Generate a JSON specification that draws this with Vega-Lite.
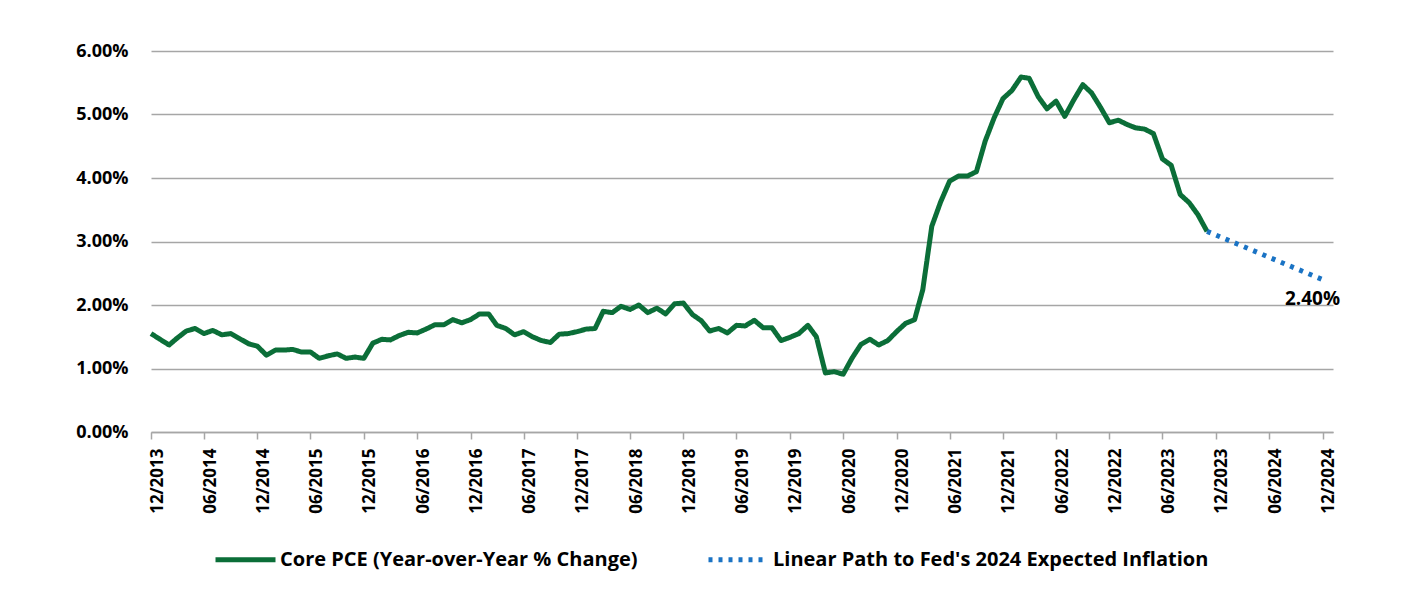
{
  "$schema": "https://vega.github.io/schema/vega-lite/v6.json",
  "width": 1182,
  "height": 381,
  "autosize": {"type": "none"},
  "padding": {"left": 151, "top": 51, "right": 69, "bottom": 166},
  "background": "white",
  "config": {
    "view": {"stroke": null},
    "font": "Open Sans",
    "axis": {"labelFont": "Open Sans", "labelFontWeight": "bold", "labelColor": "#000000"},
    "legend": {"labelFont": "Open Sans", "labelFontWeight": "bold", "labelColor": "#000000"}
  },
  "data": {
    "values": [
      {"date": "2013-12-01", "v": 1.55, "s": "core"},
      {"date": "2014-01-01", "v": 1.46, "s": "core"},
      {"date": "2014-02-01", "v": 1.37, "s": "core"},
      {"date": "2014-03-01", "v": 1.48, "s": "core"},
      {"date": "2014-04-01", "v": 1.59, "s": "core"},
      {"date": "2014-05-01", "v": 1.63, "s": "core"},
      {"date": "2014-06-01", "v": 1.55, "s": "core"},
      {"date": "2014-07-01", "v": 1.60, "s": "core"},
      {"date": "2014-08-01", "v": 1.53, "s": "core"},
      {"date": "2014-09-01", "v": 1.55, "s": "core"},
      {"date": "2014-10-01", "v": 1.47, "s": "core"},
      {"date": "2014-11-01", "v": 1.39, "s": "core"},
      {"date": "2014-12-01", "v": 1.35, "s": "core"},
      {"date": "2015-01-01", "v": 1.21, "s": "core"},
      {"date": "2015-02-01", "v": 1.29, "s": "core"},
      {"date": "2015-03-01", "v": 1.29, "s": "core"},
      {"date": "2015-04-01", "v": 1.30, "s": "core"},
      {"date": "2015-05-01", "v": 1.26, "s": "core"},
      {"date": "2015-06-01", "v": 1.26, "s": "core"},
      {"date": "2015-07-01", "v": 1.16, "s": "core"},
      {"date": "2015-08-01", "v": 1.20, "s": "core"},
      {"date": "2015-09-01", "v": 1.23, "s": "core"},
      {"date": "2015-10-01", "v": 1.16, "s": "core"},
      {"date": "2015-11-01", "v": 1.18, "s": "core"},
      {"date": "2015-12-01", "v": 1.16, "s": "core"},
      {"date": "2016-01-01", "v": 1.40, "s": "core"},
      {"date": "2016-02-01", "v": 1.46, "s": "core"},
      {"date": "2016-03-01", "v": 1.45, "s": "core"},
      {"date": "2016-04-01", "v": 1.52, "s": "core"},
      {"date": "2016-05-01", "v": 1.57, "s": "core"},
      {"date": "2016-06-01", "v": 1.56, "s": "core"},
      {"date": "2016-07-01", "v": 1.62, "s": "core"},
      {"date": "2016-08-01", "v": 1.69, "s": "core"},
      {"date": "2016-09-01", "v": 1.69, "s": "core"},
      {"date": "2016-10-01", "v": 1.77, "s": "core"},
      {"date": "2016-11-01", "v": 1.72, "s": "core"},
      {"date": "2016-12-01", "v": 1.77, "s": "core"},
      {"date": "2017-01-01", "v": 1.86, "s": "core"},
      {"date": "2017-02-01", "v": 1.86, "s": "core"},
      {"date": "2017-03-01", "v": 1.68, "s": "core"},
      {"date": "2017-04-01", "v": 1.63, "s": "core"},
      {"date": "2017-05-01", "v": 1.53, "s": "core"},
      {"date": "2017-06-01", "v": 1.58, "s": "core"},
      {"date": "2017-07-01", "v": 1.50, "s": "core"},
      {"date": "2017-08-01", "v": 1.44, "s": "core"},
      {"date": "2017-09-01", "v": 1.41, "s": "core"},
      {"date": "2017-10-01", "v": 1.54, "s": "core"},
      {"date": "2017-11-01", "v": 1.55, "s": "core"},
      {"date": "2017-12-01", "v": 1.58, "s": "core"},
      {"date": "2018-01-01", "v": 1.62, "s": "core"},
      {"date": "2018-02-01", "v": 1.63, "s": "core"},
      {"date": "2018-03-01", "v": 1.90, "s": "core"},
      {"date": "2018-04-01", "v": 1.88, "s": "core"},
      {"date": "2018-05-01", "v": 1.98, "s": "core"},
      {"date": "2018-06-01", "v": 1.93, "s": "core"},
      {"date": "2018-07-01", "v": 2.00, "s": "core"},
      {"date": "2018-08-01", "v": 1.88, "s": "core"},
      {"date": "2018-09-01", "v": 1.95, "s": "core"},
      {"date": "2018-10-01", "v": 1.86, "s": "core"},
      {"date": "2018-11-01", "v": 2.02, "s": "core"},
      {"date": "2018-12-01", "v": 2.03, "s": "core"},
      {"date": "2019-01-01", "v": 1.85, "s": "core"},
      {"date": "2019-02-01", "v": 1.75, "s": "core"},
      {"date": "2019-03-01", "v": 1.59, "s": "core"},
      {"date": "2019-04-01", "v": 1.63, "s": "core"},
      {"date": "2019-05-01", "v": 1.56, "s": "core"},
      {"date": "2019-06-01", "v": 1.68, "s": "core"},
      {"date": "2019-07-01", "v": 1.67, "s": "core"},
      {"date": "2019-08-01", "v": 1.76, "s": "core"},
      {"date": "2019-09-01", "v": 1.64, "s": "core"},
      {"date": "2019-10-01", "v": 1.64, "s": "core"},
      {"date": "2019-11-01", "v": 1.44, "s": "core"},
      {"date": "2019-12-01", "v": 1.49, "s": "core"},
      {"date": "2020-01-01", "v": 1.55, "s": "core"},
      {"date": "2020-02-01", "v": 1.68, "s": "core"},
      {"date": "2020-03-01", "v": 1.50, "s": "core"},
      {"date": "2020-04-01", "v": 0.93, "s": "core"},
      {"date": "2020-05-01", "v": 0.95, "s": "core"},
      {"date": "2020-06-01", "v": 0.91, "s": "core"},
      {"date": "2020-07-01", "v": 1.16, "s": "core"},
      {"date": "2020-08-01", "v": 1.38, "s": "core"},
      {"date": "2020-09-01", "v": 1.46, "s": "core"},
      {"date": "2020-10-01", "v": 1.37, "s": "core"},
      {"date": "2020-11-01", "v": 1.44, "s": "core"},
      {"date": "2020-12-01", "v": 1.58, "s": "core"},
      {"date": "2021-01-01", "v": 1.71, "s": "core"},
      {"date": "2021-02-01", "v": 1.77, "s": "core"},
      {"date": "2021-03-01", "v": 2.24, "s": "core"},
      {"date": "2021-04-01", "v": 3.24, "s": "core"},
      {"date": "2021-05-01", "v": 3.62, "s": "core"},
      {"date": "2021-06-01", "v": 3.95, "s": "core"},
      {"date": "2021-07-01", "v": 4.03, "s": "core"},
      {"date": "2021-08-01", "v": 4.03, "s": "core"},
      {"date": "2021-09-01", "v": 4.10, "s": "core"},
      {"date": "2021-10-01", "v": 4.58, "s": "core"},
      {"date": "2021-11-01", "v": 4.95, "s": "core"},
      {"date": "2021-12-01", "v": 5.25, "s": "core"},
      {"date": "2022-01-01", "v": 5.38, "s": "core"},
      {"date": "2022-02-01", "v": 5.59, "s": "core"},
      {"date": "2022-03-01", "v": 5.57, "s": "core"},
      {"date": "2022-04-01", "v": 5.28, "s": "core"},
      {"date": "2022-05-01", "v": 5.09, "s": "core"},
      {"date": "2022-06-01", "v": 5.21, "s": "core"},
      {"date": "2022-07-01", "v": 4.97, "s": "core"},
      {"date": "2022-08-01", "v": 5.23, "s": "core"},
      {"date": "2022-09-01", "v": 5.47, "s": "core"},
      {"date": "2022-10-01", "v": 5.34, "s": "core"},
      {"date": "2022-11-01", "v": 5.11, "s": "core"},
      {"date": "2022-12-01", "v": 4.87, "s": "core"},
      {"date": "2023-01-01", "v": 4.91, "s": "core"},
      {"date": "2023-02-01", "v": 4.84, "s": "core"},
      {"date": "2023-03-01", "v": 4.79, "s": "core"},
      {"date": "2023-04-01", "v": 4.77, "s": "core"},
      {"date": "2023-05-01", "v": 4.70, "s": "core"},
      {"date": "2023-06-01", "v": 4.30, "s": "core"},
      {"date": "2023-07-01", "v": 4.20, "s": "core"},
      {"date": "2023-08-01", "v": 3.74, "s": "core"},
      {"date": "2023-09-01", "v": 3.61, "s": "core"},
      {"date": "2023-10-01", "v": 3.42, "s": "core"},
      {"date": "2023-11-01", "v": 3.16, "s": "core"},
      {"date": "2023-11-01", "v": 3.16, "s": "path"},
      {"date": "2024-12-01", "v": 2.40, "s": "path", "label": "2.40%"}
    ]
  },
  "encoding": {
    "x": {
      "field": "date",
      "type": "temporal",
      "scale": {"type": "utc", "domain": ["2013-12-01", "2025-01-06"]},
      "axis": {
        "title": null,
        "labelExpr": "utcFormat(datum.value, '%m/%Y')",
        "values": [
          {"year": 2013, "month": 12, "date": 1, "utc": true},
          {"year": 2014, "month": 6, "date": 1, "utc": true},
          {"year": 2014, "month": 12, "date": 1, "utc": true},
          {"year": 2015, "month": 6, "date": 1, "utc": true},
          {"year": 2015, "month": 12, "date": 1, "utc": true},
          {"year": 2016, "month": 6, "date": 1, "utc": true},
          {"year": 2016, "month": 12, "date": 1, "utc": true},
          {"year": 2017, "month": 6, "date": 1, "utc": true},
          {"year": 2017, "month": 12, "date": 1, "utc": true},
          {"year": 2018, "month": 6, "date": 1, "utc": true},
          {"year": 2018, "month": 12, "date": 1, "utc": true},
          {"year": 2019, "month": 6, "date": 1, "utc": true},
          {"year": 2019, "month": 12, "date": 1, "utc": true},
          {"year": 2020, "month": 6, "date": 1, "utc": true},
          {"year": 2020, "month": 12, "date": 1, "utc": true},
          {"year": 2021, "month": 6, "date": 1, "utc": true},
          {"year": 2021, "month": 12, "date": 1, "utc": true},
          {"year": 2022, "month": 6, "date": 1, "utc": true},
          {"year": 2022, "month": 12, "date": 1, "utc": true},
          {"year": 2023, "month": 6, "date": 1, "utc": true},
          {"year": 2023, "month": 12, "date": 1, "utc": true},
          {"year": 2024, "month": 6, "date": 1, "utc": true},
          {"year": 2024, "month": 12, "date": 1, "utc": true}
        ],
        "labelAngle": 270,
        "labelFontSize": 17,
        "labelPadding": 9,
        "labelOffset": 6,
        "labelOverlap": false,
        "labelFlush": false,
        "grid": false,
        "domainColor": "#A6A6A6",
        "domainWidth": 1.5,
        "tickColor": "#A6A6A6",
        "tickWidth": 1.5,
        "tickSize": 7
      }
    },
    "y": {
      "field": "v",
      "type": "quantitative",
      "scale": {"domain": [0, 6], "nice": false},
      "axis": {
        "title": null,
        "values": [0, 1, 2, 3, 4, 5, 6],
        "labelExpr": "format(datum.value, '.2f') + '%'",
        "labelFontSize": 18,
        "labelPadding": 23,
        "domain": false,
        "ticks": false,
        "grid": true,
        "gridColor": "#A6A6A6",
        "gridWidth": 1.5
      }
    }
  },
  "layer": [
    {
      "mark": {"type": "line", "strokeWidth": 5, "strokeJoin": "round"},
      "encoding": {
        "color": {
          "field": "s",
          "type": "nominal",
          "scale": {"domain": ["core", "path"], "range": ["#0B6E38", "#1A73C4"]},
          "legend": {
            "title": null,
            "orient": "none",
            "legendX": 62,
            "legendY": 476,
            "direction": "horizontal",
            "symbolType": "stroke",
            "symbolSize": 3600,
            "symbolStrokeWidth": 5,
            "labelFontSize": 20,
            "labelOffset": 2,
            "labelLimit": 600,
            "columnPadding": 60,
            "labelExpr": "datum.value == 'core' ? 'Core PCE (Year-over-Year % Change)' : \"Linear Path to Fed's 2024 Expected Inflation\""
          }
        },
        "strokeDash": {
          "field": "s",
          "type": "nominal",
          "scale": {"domain": ["core", "path"], "range": [[1, 0], [4, 6]]},
          "legend": null
        }
      }
    },
    {
      "transform": [{"filter": "datum.label"}],
      "mark": {"type": "text", "fontSize": 19, "fontWeight": "bold", "color": "#000000", "dx": -10, "dy": 19, "align": "center", "baseline": "middle"},
      "encoding": {"text": {"field": "label", "type": "nominal"}}
    }
  ]
}
